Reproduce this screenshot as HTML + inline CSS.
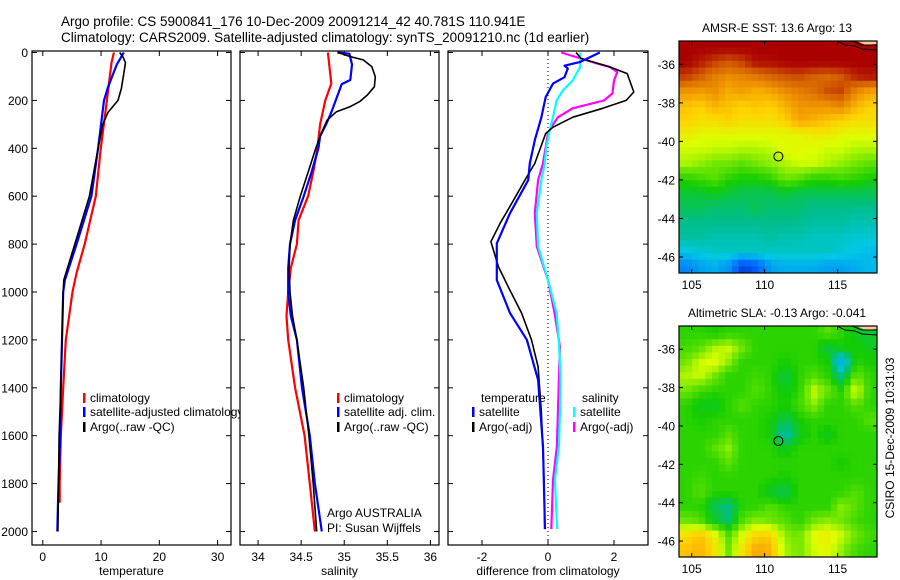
<!DOCTYPE html>
<html><head><meta charset="utf-8"><style>
body{margin:0;background:#fff}
svg{display:block;font-family:"Liberation Sans",Arial,sans-serif}
</style></head><body>
<svg id="fig" width="900" height="580" viewBox="0 0 900 580" xmlns="http://www.w3.org/2000/svg">
<text x="61" y="26" font-size="13.5">Argo profile: CS 5900841_176 10-Dec-2009 20091214_42 40.781S 110.941E</text>
<text x="61" y="42" font-size="13.5">Climatology: CARS2009. Satellite-adjusted climatology: synTS_20091210.nc (1d earlier)</text>
<g id="plots"></g>
</svg>
<script>
// ---------- profile data ----------
const tClimDepth=[0,43,200,400,600,800,920,1000,1200,1400,1600,1800,1880];
const tClimVal=[12.2,11.8,11.0,9.95,9.1,7.2,5.8,5.1,3.95,3.5,3.1,2.9,2.9];
const tSatDepth=[0,50,145,200,400,600,800,950,1000,1200,1400,1600,1800,2000];
const tSatVal=[13.9,12.7,11.2,10.5,9.5,8.35,5.8,3.8,3.5,3.3,3.1,3.0,2.7,2.5];
const tArgoDepth=[0,20,43,150,200,250,300,400,600,800,950,1000,1200,1400,1600,1800,2000];
const tArgoVal=[13.2,13.8,14.2,13.5,12.9,11.2,10.3,9.5,8.0,5.5,3.6,3.5,3.3,3.1,2.8,2.7,2.6];

const sClimDepth=[0,130,200,300,400,500,600,700,800,900,1000,1100,1200,1400,1600,1800,2000];
const sClimVal=[34.81,34.85,34.78,34.72,34.69,34.64,34.58,34.47,34.45,34.38,34.35,34.33,34.35,34.43,34.54,34.60,34.66];
const sSatDepth=[0,5,50,115,132,250,300,350,400,500,600,700,800,900,1000,1100,1200,1400,1600,1800,2000];
const sSatVal=[34.92,35.06,35.09,35.07,34.97,34.85,34.79,34.72,34.70,34.62,34.53,34.43,34.37,34.35,34.35,34.38,34.45,34.51,34.60,34.66,34.74];
const sArgoDepth=[0,17,31,59,101,143,177,205,226,247,283,350,400,500,600,700,800,900,1000,1100,1200,1400,1600,1800,2000];
const sArgoVal=[34.93,35.07,35.22,35.32,35.36,35.35,35.27,35.18,35.07,34.91,34.80,34.72,34.67,34.58,34.49,34.41,34.37,34.36,34.37,34.40,34.45,34.53,34.59,34.64,34.68];

const dTSatDepth=[0,40,55,67,103,130,186,270,366,463,533,671,797,950,1088,1200,1367,1645,1990];
const dTSatVal=[1.57,0.96,0.5,0.6,0.5,0.15,-0.07,-0.2,-0.4,-0.55,-0.6,-1.15,-1.55,-1.55,-1.15,-0.64,-0.3,-0.15,-0.09];
const dTArgoDepth=[0,25,60,88,165,200,233,270,312,338,463,533,630,713,790,895,980,1088,1200,1312,1505,1785,1990];
const dTArgoVal=[0.85,1.0,1.87,2.4,2.6,2.37,1.66,0.75,0.15,-0.07,-0.4,-0.7,-1.1,-1.45,-1.73,-1.5,-1.2,-0.8,-0.5,-0.3,-0.2,-0.12,-0.1];
const dSSatDepth=[0,60,88,117,158,200,270,325,395,463,533,671,810,950,1088,1228,1367,1505,1645,1785,1990];
const dSSatVal=[0.98,0.98,0.86,0.75,0.45,0.26,0.15,0.05,-0.05,-0.1,-0.2,-0.34,-0.3,0.0,0.26,0.34,0.38,0.36,0.33,0.21,0.28];
const dSArgoDepth=[0,25,45,60,82,117,171,200,233,270,312,338,463,533,671,810,950,1088,1228,1367,1505,1645,1785,1990];
const dSArgoVal=[0.4,1.0,1.47,1.87,2.1,2.0,1.95,1.7,0.75,0.3,0.1,0.0,-0.15,-0.3,-0.4,-0.34,0.0,0.2,0.36,0.33,0.3,0.27,0.15,0.1];

const depthTicks=[0,200,400,600,800,1000,1200,1400,1600,1800,2000];
const tTicks=[0,10,20,30];
const sTicks=[34,34.5,35,35.5,36];
const sTickLabels=["34","34.5","35","35.5","36"];
const dTicks=[-2,0,2];

// ---------- map data (values 0..100 on colour scale) ----------
const sstRows=[
[95,95,95,95,95,95,95,95,95,95,95,95,95,95],
[95,93,90,88,90,94,94,95,95,95,95,95,95,95],
[90,87,83,81,82,84,86,88,89,87,86,88,92,93],
[80,79,81,77,79,76,78,81,83,85,89,90,82,78],
[74,72,76,74,72,74,72,76,80,80,80,82,76,72],
[72,70,70,72,70,70,70,72,78,76,74,72,70,70],
[68,66,66,66,66,66,66,66,66,68,68,66,66,66],
[64,64,63,63,62,62,63,66,66,65,64,64,62,62],
[62,60,58,58,56,58,60,62,64,64,62,60,58,56],
[52,54,56,52,50,50,52,58,56,52,52,54,52,50],
[46,46,48,46,44,44,44,46,44,44,44,44,44,44],
[44,44,42,42,42,44,42,42,42,40,40,40,40,40],
[40,40,40,40,40,40,40,40,40,38,38,38,36,36],
[38,38,36,36,36,36,38,36,36,34,34,34,32,32],
[30,32,34,34,34,34,34,34,34,34,34,32,30,28],
[20,24,26,22,10,14,24,26,26,26,24,24,26,28]];
const slaRows=[
[52,52,50,52,52,52,52,52,52,52,56,52,48,46],
[54,56,62,64,58,52,52,52,52,52,45,50,50,48],
[58,64,66,60,52,52,52,50,52,52,50,25,52,50],
[62,64,58,52,52,54,52,45,52,56,52,40,58,52],
[58,54,52,52,52,56,52,48,52,64,58,52,66,52],
[52,48,47,52,56,52,52,50,54,60,52,52,56,52],
[52,50,52,52,52,52,50,44,50,52,52,52,52,56],
[52,52,52,56,52,52,50,36,48,52,48,52,52,52],
[52,52,56,60,52,52,52,48,52,52,52,52,52,52],
[52,52,52,56,52,52,52,52,52,52,52,50,52,52],
[52,54,52,52,52,52,52,50,52,52,52,52,52,52],
[52,56,52,52,52,52,46,44,52,52,52,52,56,52],
[52,52,44,40,52,52,56,52,52,52,52,60,56,52],
[58,56,48,42,56,60,58,56,52,58,60,58,54,52],
[70,74,68,56,66,72,72,60,58,66,68,64,58,54],
[74,76,70,58,70,78,76,62,58,64,66,60,54,52]];
const lonTicks=[105,110,115];
const latTicks=[-36,-38,-40,-42,-44,-46];
const argoLon=110.941, argoLat=-40.781;

const NS="http://www.w3.org/2000/svg";
const root=document.getElementById('plots');
function mk(tag,attrs,parent){const e=document.createElementNS(NS,tag);for(const k in attrs)e.setAttribute(k,attrs[k]);(parent||root).appendChild(e);return e;}
function txt(x,y,s,size,anchor,parent){const t=mk('text',{x:x,y:y,'font-size':size||12,'text-anchor':anchor||'start'},parent);t.textContent=s;return t;}

const Y0=52.5, YS=0.2395, TOP=51, BOT=545;
const yD=d=>Y0+d*YS;

function panel(name,x0,x1,xmin,xmax,ticks,labels,xlabel,showY){
  const g=mk('g',{});
  
  
  const xs=v=>x0+(v-xmin)/(xmax-xmin)*(x1-x0);
  mk('rect',{x:x0,y:TOP,width:x1-x0,height:BOT-TOP,fill:'#fff',stroke:'#000','stroke-width':1.2},g);
  depthTicks.forEach(d=>{const y=yD(d);
    mk('line',{x1:x0,y1:y,x2:x0+5,y2:y,stroke:'#000'},g);
    mk('line',{x1:x1-5,y1:y,x2:x1,y2:y,stroke:'#000'},g);
    if(showY){const t=txt(x0-4,y+4.5,String(d),12,'end',g);
      
      }
  });
  ticks.forEach((v,i)=>{const x=xs(v);
    mk('line',{x1:x,y1:TOP,x2:x,y2:TOP+5,stroke:'#000'},g);
    mk('line',{x1:x,y1:BOT-5,x2:x,y2:BOT,stroke:'#000'},g);
    const t=txt(x,BOT+16,labels[i],12,'middle',g);
    
    
  });
  const xl=txt((x0+x1)/2,BOT+30,xlabel,12,'middle',g);
  
  
  return {g,xs};
}
function line(p,depths,vals,color,w,name){
  const pts=depths.map((d,i)=>p.xs(vals[i]).toFixed(1)+','+yD(d).toFixed(1)).join(' ');
  const l=mk('polyline',{points:pts,fill:'none',stroke:color,'stroke-width':w,'stroke-linejoin':'round'},p.g);
  
  
}
function legend(g,x,y,color,label,name){
  if(color) mk('rect',{x:x,y:y-9,width:2.5,height:10,fill:color},g);
  const t=txt(x+7,y,label,12,'start',g);
  
  
}

// panel 1
const p1=panel('temperature-panel',32,231,-1.85,32.3,tTicks,tTicks.map(String),'temperature',true);
line(p1,tClimDepth,tClimVal,'#f00',2.2,'temp-climatology-line');
line(p1,tSatDepth,tSatVal,'#00f',2.2,'temp-satellite-line');
line(p1,tArgoDepth,tArgoVal,'#000',1.6,'temp-argo-line');
legend(p1.g,83,402,'#f00','climatology','legend-climatology');
legend(p1.g,83,416,'#00f','satellite-adjusted climatology','legend-satellite-adjusted');
legend(p1.g,83,431,'#000','Argo(..raw -QC)','legend-argo');

// panel 2
const p2=panel('salinity-panel',240,439,33.79,36.1,sTicks,sTickLabels,'salinity',false);
line(p2,sClimDepth,sClimVal,'#f00',2.2,'sal-climatology-line');
line(p2,sSatDepth,sSatVal,'#00f',2.2,'sal-satellite-line');
line(p2,sArgoDepth,sArgoVal,'#000',1.6,'sal-argo-line');
legend(p2.g,337,402,'#f00','climatology','legend-climatology');
legend(p2.g,337,416,'#00f','satellite adj. clim.','legend-satellite');
legend(p2.g,337,431,'#000','Argo(..raw -QC)','legend-argo');
const c1=txt(327,517,'Argo AUSTRALIA',12,'start',p2.g);


const c2=txt(327,532,'PI: Susan Wijffels',12,'start',p2.g);



// panel 3
const p3=panel('difference-panel',448,648,-3.03,3.03,dTicks,dTicks.map(String),'difference from climatology',false);
mk('line',{x1:p3.xs(0),y1:TOP,x2:p3.xs(0),y2:BOT,stroke:'#000','stroke-dasharray':'1,3','stroke-width':1},p3.g);
line(p3,dSArgoDepth,dSArgoVal,'#f0f',2.2,'diff-sal-argo-line');
line(p3,dSSatDepth,dSSatVal,'#0ff',2.2,'diff-sal-satellite-line');
line(p3,dTArgoDepth,dTArgoVal,'#000',1.6,'diff-temp-argo-line');
line(p3,dTSatDepth,dTSatVal,'#00f',2.2,'diff-temp-satellite-line');
legend(p3.g,474,402,null,'temperature','legend-temperature-header');
legend(p3.g,472,416,'#00f','satellite','legend-temp-satellite');
legend(p3.g,472,431,'#000','Argo(-adj)','legend-temp-argo');
legend(p3.g,575,402,null,'salinity','legend-salinity-header');
legend(p3.g,573,416,'#0ff','satellite','legend-sal-satellite');
legend(p3.g,573,431,'#f0f','Argo(-adj)','legend-sal-argo');

// ---------- maps ----------
const stops=[[0,[0,0,140]],[0.15,[0,100,255]],[0.3,[0,200,230]],[0.4,[0,190,140]],[0.5,[20,205,0]],[0.58,[110,230,0]],[0.65,[220,255,0]],[0.72,[255,210,0]],[0.8,[240,150,0]],[0.88,[210,90,0]],[0.95,[170,0,0]],[1,[150,0,0]]];
function cmap(v){v=Math.max(0,Math.min(1,v));for(let i=1;i<stops.length;i++){if(v<=stops[i][0]){const a=stops[i-1],b=stops[i],t=(v-a[0])/(b[0]-a[0]);const c=a[1].map((x,k)=>Math.round(x+(b[1][k]-x)*t));return `rgb(${c})`;}}return 'rgb(150,0,0)';}
function sample(rows,fy,fx){
  const nr=rows.length,nc=rows[0].length;
  const y=Math.max(0,Math.min(nr-1,fy*nr-0.5)),x=Math.max(0,Math.min(nc-1,fx*nc-0.5));
  const i0=Math.floor(y),j0=Math.floor(x),i1=Math.min(nr-1,i0+1),j1=Math.min(nc-1,j0+1),ty=y-i0,tx=x-j0;
  return (rows[i0][j0]*(1-tx)+rows[i0][j1]*tx)*(1-ty)+(rows[i1][j0]*(1-tx)+rows[i1][j1]*tx)*ty;
}

function map(name,x0,y0,x1,y1,rows,title,titleName){
  const g=mk('g',{});
  
  
  const lonMin=104.13,lonMax=117.7,latTop=-34.79,latBot=-46.83;
  const xs=l=>x0+(l-lonMin)/(lonMax-lonMin)*(x1-x0);
  const ys=l=>y0+(latTop-l)/(latTop-latBot)*(y1-y0);
  const NC=30,NR=35,cw=(x1-x0)/NC,ch=(y1-y0)/NR;
  for(let i=0;i<NR;i++)for(let j=0;j<NC;j++){
    const v=sample(rows,(i+0.5)/NR,(j+0.5)/NC);
    const c=mk('rect',{x:(x0+j*cw).toFixed(2),y:(y0+i*ch).toFixed(2),width:(cw+0.5).toFixed(2),height:(ch+0.5).toFixed(2),fill:cmap(v/100)},g);
    
    
  }
  mk('path',{d:`M857 ${y0} L865 ${y0+4} L877 ${y0+3} L${x1} ${y0} Z`,fill:'#ffc896'},g);
  mk('polyline',{points:`837,${y0} 845,${y0+4} 855,${y0+5} 862,${y0+8} ${x1},${y0+9}`,fill:'none',stroke:'#000','stroke-width':1},g);
  mk('polyline',{points:`852,${y0} 862,${y0+4} ${x1},${y0+4}`,fill:'none',stroke:'#000','stroke-width':1},g);
  mk('rect',{x:x0,y:y0,width:x1-x0,height:y1-y0,fill:'none',stroke:'#000','stroke-width':1.2},g);
  lonTicks.forEach(l=>{const x=xs(l);
    mk('line',{x1:x,y1:y0,x2:x,y2:y0+4,stroke:'#000'},g);
    mk('line',{x1:x,y1:y1-4,x2:x,y2:y1,stroke:'#000'},g);
    const t=txt(x,y1+16,String(l),12,'middle',g);
    
    });
  latTicks.forEach(l=>{const y=ys(l);
    mk('line',{x1:x0,y1:y,x2:x0+4,y2:y,stroke:'#000'},g);
    mk('line',{x1:x1-4,y1:y,x2:x1,y2:y,stroke:'#000'},g);
    const t=txt(x0-4,y+4.5,String(l),12,'end',g);
    
    });
  const m=mk('circle',{cx:xs(argoLon),cy:ys(argoLat),r:4.5,fill:'none',stroke:'#000','stroke-width':1},g);
  
  
  const t=txt((x0+x1)/2-1,y0-9,title,12,'middle',g);
  
  
}
map('sst-map',679,41,877,273,sstRows,'AMSR-E SST: 13.6 Argo: 13','sst-map-title');
map('sla-map',679,326,877,557,slaRows,'Altimetric SLA: -0.13 Argo: -0.041','sla-map-title');
const st=txt(0,0,'CSIRO 15-Dec-2009 10:31:03',12,'middle');
st.setAttribute('transform','translate(894,438) rotate(-90)');


</script>
</body></html>
